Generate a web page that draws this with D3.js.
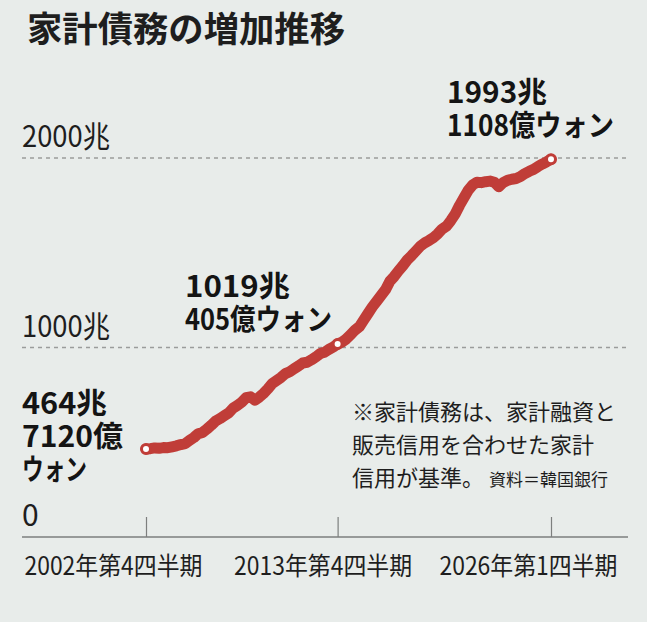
<!DOCTYPE html>
<html>
<head>
<meta charset="utf-8">
<script src="https://cdn.jsdelivr.net/npm/d3@7"></script>
<style>
  html, body { margin: 0; padding: 0; background: #fff; }
  svg text { font-family: "Noto Sans CJK JP", "Noto Sans", sans-serif; }
</style>
</head>
<body>
<div id="chart"></div>
<script>
// 家計信用（兆ウォン）、2002年第4四半期〜2026年第1四半期、四半期ごと
var debt = [
    464.7,
    466, 470, 468, 472,
    471, 476, 481, 488,
    493, 510, 525, 545,
    552, 570, 590, 612,
    625, 640, 655, 680,
    695, 712, 735, 740,
    722, 738, 758, 782,
    810, 826, 842, 862,
    872, 888, 902, 918,
    922, 935, 950, 968,
    975, 990, 1003, 1019.0405,
    1028, 1045, 1068, 1092,
    1110, 1145, 1180, 1215,
    1245, 1275, 1305, 1350,
    1375, 1405, 1432, 1462,
    1485, 1510, 1535, 1552,
    1565, 1580, 1600, 1625,
    1640, 1670, 1705, 1750,
    1790, 1830, 1858, 1872,
    1870, 1875, 1878, 1872,
    1848, 1870, 1882, 1888,
    1892, 1902, 1918, 1930,
    1940, 1955, 1968, 1980,
    1993.1108
];

var xTickIndex = [0, 44, 93];
var xTickLabels = ["2002年第4四半期", "2013年第4四半期", "2026年第1四半期"];
var yTicks = [0, 1000, 2000];
var yTickLabels = ["0", "1000兆", "2000兆"];
var markIndex = [0, 44, 93];
var markLabels = [
    ["464兆", "7120億", "ウォン"],
    ["1019兆", "405億ウォン"],
    ["1993兆", "1108億ウォン"]
];
var noteLines = ["※家計債務は、家計融資と", "販売信用を合わせた家計", "信用が基準。"];
var sourceText = "資料＝韓国銀行";

var svgWidth = 647;
var svgHeight = 630;

var svg = d3.select("#chart")
    .append("svg")
    .attr("width", svgWidth)
    .attr("height", svgHeight);

// background panel
svg.append("rect")
    .attr("x", 0)
    .attr("y", 0)
    .attr("width", svgWidth)
    .attr("height", 622)
    .attr("fill", "#e8ecea");

// title
svg.append("text")
    .attr("x", 27)
    .attr("y", 42)
    .attr("font-size", 35)
    .attr("font-weight", "bold")
    .attr("fill", "#1e1e1e")
    .attr("textLength", 318)
    .attr("lengthAdjust", "spacingAndGlyphs")
    .text("家計債務の増加推移");

var xScale = d3.scaleLinear()
    .domain([0, debt.length - 1])
    .range([146, 551]);

var yScale = d3.scaleLinear()
    .domain([0, 2000])
    .range([537, 158]);

var left = 22, right = 628;

// dotted gridlines
svg.append("g")
    .selectAll("line")
    .data(yTicks.slice(1))
    .enter()
    .append("line")
    .attr("x1", left)
    .attr("x2", right)
    .attr("y1", d => yScale(d))
    .attr("y2", d => yScale(d))
    .attr("stroke", "#9a9c9b")
    .attr("stroke-width", 1.5)
    .attr("stroke-dasharray", "4,4");

// y labels (condensed look)
svg.append("g")
    .selectAll("text")
    .data(yTicks)
    .enter()
    .append("text")
    .attr("x", 22)
    .attr("y", d => yScale(d) - 11)
    .attr("font-size", 30)
    .attr("fill", "#1e1e1e")
    .attr("textLength", d => d === 0 ? null : 88)
    .attr("lengthAdjust", "spacingAndGlyphs")
    .text((d, i) => yTickLabels[i]);

// bottom axis
svg.append("line")
    .attr("x1", left)
    .attr("x2", right)
    .attr("y1", yScale(0))
    .attr("y2", yScale(0))
    .attr("stroke", "#7d7f7e")
    .attr("stroke-width", 1.5);

var bottomAxis = d3.axisBottom(xScale)
    .tickValues(xTickIndex)
    .tickSizeInner(-20)
    .tickSizeOuter(0)
    .tickFormat((d, i) => xTickLabels[i]);

var axisG = svg.append("g")
    .attr("transform", `translate(0, ${yScale(0)})`)
    .call(bottomAxis);

axisG.select(".domain").remove();
axisG.selectAll(".tick line")
    .attr("stroke", "#7d7f7e")
    .attr("stroke-width", 1.2);
axisG.selectAll(".tick text")
    .attr("font-size", 25)
    .attr("fill", "#1e1e1e")
    .attr("y", 38)
    .attr("dy", 0)
    .attr("text-anchor", (d, i) => ["start", "middle", "end"][i])
    .attr("x", (d, i) => [left + 2 - xScale(0), -15, 617 - xScale(93)][i])
    .attr("textLength", 178)
    .attr("lengthAdjust", "spacingAndGlyphs");

// line
var line = d3.line()
    .x((d, i) => xScale(i))
    .y(d => yScale(d));

svg.append("path")
    .datum(debt)
    .attr("d", line)
    .attr("fill", "none")
    .attr("stroke", "#c03d38")
    .attr("stroke-width", 11)
    .attr("stroke-linejoin", "round")
    .attr("stroke-linecap", "round");

// markers
svg.append("g")
    .selectAll("circle")
    .data(markIndex)
    .enter()
    .append("circle")
    .attr("cx", d => xScale(d))
    .attr("cy", d => yScale(debt[d]))
    .attr("r", 4.5)
    .attr("fill", "#fff")
    .attr("stroke", "#c03d38")
    .attr("stroke-width", 3);

// value labels
var labelPos = [
    { x: 22, y: 414 },
    { x: 185, y: 297 },
    { x: 447, y: 103 }
];
var labelWidths = [[85, 101, 65], [105, 147], [100, 167]];
markLabels.forEach(function (lines, k) {
    lines.forEach(function (s, j) {
        svg.append("text")
            .attr("x", labelPos[k].x)
            .attr("y", labelPos[k].y + j * 33)
            .attr("font-size", 29)
            .attr("font-weight", "bold")
            .attr("fill", "#141414")
            .attr("textLength", labelWidths[k][j])
            .attr("lengthAdjust", "spacingAndGlyphs")
            .text(s);
    });
});

// note
noteLines.forEach(function (s, j) {
    var t = svg.append("text")
        .attr("x", 352)
        .attr("y", 420 + j * 33)
        .attr("font-size", 22)
        .attr("fill", "#1e1e1e")
        .text(s);
    if (j === noteLines.length - 1) {
        t.append("tspan")
            .attr("font-size", 17)
            .attr("dx", 5)
            .text(sourceText);
    }
});
</script>
</body>
</html>
